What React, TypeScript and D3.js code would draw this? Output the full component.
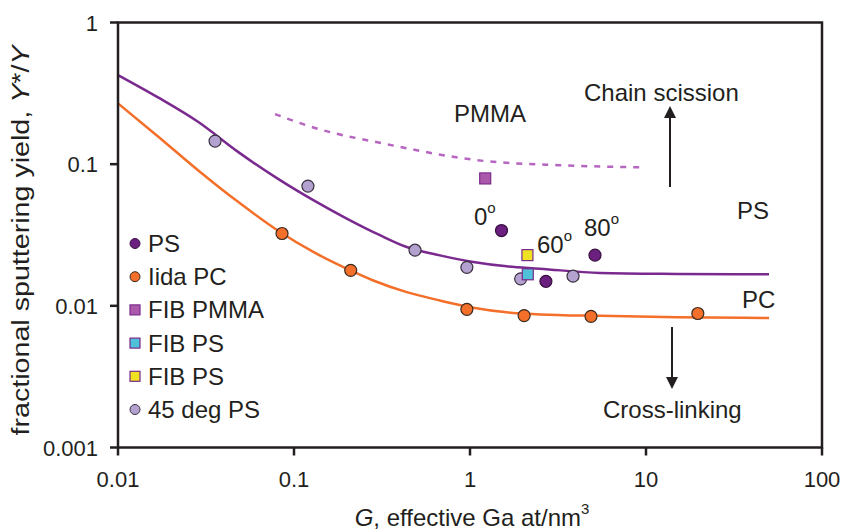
import React from 'react';
import * as d3 from 'd3';

// fitted curves: [G, Y*/Y]
const psCurve: [number, number][] = [
  [0.01, 0.4256], [0.01688, 0.296], [0.02848, 0.1991], [0.04808, 0.1221], [0.0833, 0.0771],
  [0.1287, 0.0557], [0.1993, 0.0413], [0.308, 0.0315], [0.4368, 0.026], [0.6753, 0.0227],
  [1.044, 0.0204], [1.616, 0.019], [2.498, 0.0183], [5.48, 0.01705], [15, 0.0168], [50, 0.01669],
];
const pcCurve: [number, number][] = [
  [0.01, 0.2685], [0.01688, 0.157], [0.02848, 0.0907], [0.04808, 0.0542], [0.0833, 0.0332],
  [0.1287, 0.024], [0.1993, 0.0183], [0.2822, 0.0151], [0.4368, 0.0125], [0.6753, 0.0109],
  [1.044, 0.0097], [1.616, 0.009], [2.498, 0.0087], [5.48, 0.0085], [15, 0.00832], [50, 0.0082],
];
const pmmaCurve: [number, number][] = [
  [0.078, 0.2256], [0.1346, 0.1787], [0.321, 0.14], [1.19, 0.1055], [3.2, 0.0984], [9.66, 0.0948],
];

// measured points
const psPoints: [number, number][] = [[1.51, 0.034], [2.7, 0.0149], [5.13, 0.0228]];
const iidaPC: [number, number][] = [
  [0.0855, 0.0324], [0.21, 0.0178], [0.96, 0.00945], [2.03, 0.00853], [4.87, 0.00843], [19.7, 0.00883],
];
const fibPMMA: [number, number][] = [[1.22, 0.0793]];
const fibPSa: [number, number][] = [[2.13, 0.0167]];
const fibPSb: [number, number][] = [[2.12, 0.0228]];
const deg45PS: [number, number][] = [
  [0.0356, 0.1455], [0.12, 0.07], [0.487, 0.0247], [0.96, 0.0187], [1.94, 0.0155], [3.85, 0.0162],
];

const xTicks = [0.01, 0.1, 1, 10, 100];
const yTicks = [0.001, 0.01, 0.1, 1];

const legendItems = [
  { label: 'PS', shape: 'circle', fill: '#6b1f7f', stroke: '#3a1040' },
  { label: 'Iida PC', shape: 'circle', fill: '#f36f2a', stroke: '#3a2a20' },
  { label: 'FIB PMMA', shape: 'square', fill: '#ab5aab', stroke: '#7b2a8a' },
  { label: 'FIB PS', shape: 'square', fill: '#4fc1d9', stroke: '#7b2a8a' },
  { label: 'FIB PS', shape: 'square', fill: '#eee223', stroke: '#7b2a8a' },
  { label: '45 deg PS', shape: 'circle', fill: '#b3a1cf', stroke: '#3a3040' },
];

const font = 'Liberation Sans, Arial, Helvetica, sans-serif';
const ink = '#231f20';

export default function App() {
  const W = 843, H = 530;
  const left = 118, right = 822, top = 22.5, bottom = 447.5;

  const x = d3.scaleLog().domain([0.01, 100]).range([left, right]);
  const y = d3.scaleLog().domain([0.001, 1]).range([bottom, top]);

  const line = d3.line<[number, number]>()
    .x(d => x(d[0]))
    .y(d => y(d[1]))
    .curve(d3.curveMonotoneX);

  const circles = (data: [number, number][], fill: string, stroke: string) =>
    data.map((d, i) => (
      <circle key={i} cx={x(d[0])} cy={y(d[1])} r={6} fill={fill} stroke={stroke} strokeWidth={1.2} />
    ));
  const squares = (data: [number, number][], fill: string, stroke: string) =>
    data.map((d, i) => (
      <rect key={i} x={x(d[0]) - 5.5} y={y(d[1]) - 5.5} width={11} height={11} fill={fill} stroke={stroke} strokeWidth={1.2} />
    ));

  return (
    <svg width={W} height={H} style={{ position: 'absolute', left: 0, top: 0, background: '#fff' }} fontFamily={font}>
      {/* curves */}
      <path d={line(pmmaCurve) || ''} fill="none" stroke="#b665c0" strokeWidth={2.5} strokeDasharray="6,7" />
      <path d={line(psCurve) || ''} fill="none" stroke="#7a2a8e" strokeWidth={2.5} />
      <path d={line(pcCurve) || ''} fill="none" stroke="#f36f2a" strokeWidth={2.5} />

      {/* points */}
      {circles(deg45PS, '#b3a1cf', '#3a3040')}
      {circles(iidaPC, '#f36f2a', '#3a2a20')}
      {circles(psPoints, '#6b1f7f', '#3a1040')}
      {squares(fibPMMA, '#ab5aab', '#7b2a8a')}
      {squares(fibPSa, '#4fc1d9', '#7b2a8a')}
      {squares(fibPSb, '#eee223', '#7b2a8a')}

      {/* frame */}
      <rect x={left} y={top} width={right - left} height={bottom - top} fill="none" stroke={ink} strokeWidth={2.5} />

      {/* y ticks */}
      {yTicks.map(t => (
        <g key={t}>
          <line x1={left - 8} x2={left} y1={y(t)} y2={y(t)} stroke={ink} strokeWidth={2.5} />
          <text x={98} y={y(t) + 8} textAnchor="end" fontSize={22} fill={ink}>{String(t)}</text>
        </g>
      ))}
      {/* x ticks */}
      {xTicks.map(t => (
        <g key={t}>
          <line x1={x(t)} x2={x(t)} y1={bottom} y2={bottom + 8} stroke={ink} strokeWidth={2.5} />
          <text x={x(t)} y={487} textAnchor="middle" fontSize={22} fill={ink}>{String(t)}</text>
        </g>
      ))}

      {/* axis titles */}
      <text x={472} y={526} textAnchor="middle" fontSize={24} fill={ink}>
        <tspan fontStyle="italic">G</tspan>, effective Ga at/nm<tspan fontSize={15} dy={-12}>3</tspan>
      </text>
      <text transform={`translate(29,240.5) rotate(-90)`} textAnchor="middle" fontSize={23}
        textLength={390} lengthAdjust="spacingAndGlyphs" fill={ink}>
        fractional sputtering yield, <tspan fontStyle="italic">Y</tspan>*/<tspan fontStyle="italic">Y</tspan>
      </text>

      {/* legend */}
      {legendItems.map((it, i) => {
        const cy = 243.5 + i * 33.2;
        return (
          <g key={i}>
            {it.shape === 'circle'
              ? <circle cx={135} cy={cy} r={5} fill={it.fill} stroke={it.stroke} strokeWidth={1} />
              : <rect x={130} y={cy - 5} width={10} height={10} fill={it.fill} stroke={it.stroke} strokeWidth={1.2} />}
            <text x={148} y={cy + 8.5} fontSize={24} fill={ink}>{it.label}</text>
          </g>
        );
      })}

      {/* annotations */}
      <text x={490} y={122} textAnchor="middle" fontSize={24} fill={ink}>PMMA</text>
      <text x={584} y={101} fontSize={24} fill={ink}>Chain scission</text>
      <line x1={670} x2={670} y1={187} y2={116} stroke={ink} strokeWidth={2} />
      <path d="M670,106 L664,118 L676,118 Z" fill={ink} />
      <line x1={672} x2={672} y1={327} y2={379} stroke={ink} strokeWidth={2} />
      <path d="M672,389 L666,377 L678,377 Z" fill={ink} />
      <text x={603} y={418} fontSize={24} fill={ink}>Cross-linking</text>
      <text x={737} y={219} fontSize={24} fill={ink}>PS</text>
      <text x={742} y={308} fontSize={24} fill={ink}>PC</text>
      <text x={474} y={225} fontSize={24} fill={ink}>0<tspan fontSize={15} dy={-12}>o</tspan></text>
      <text x={537} y={253} fontSize={24} fill={ink}>60<tspan fontSize={15} dy={-12}>o</tspan></text>
      <text x={584} y={236} fontSize={24} fill={ink}>80<tspan fontSize={15} dy={-12}>o</tspan></text>
    </svg>
  );
}
